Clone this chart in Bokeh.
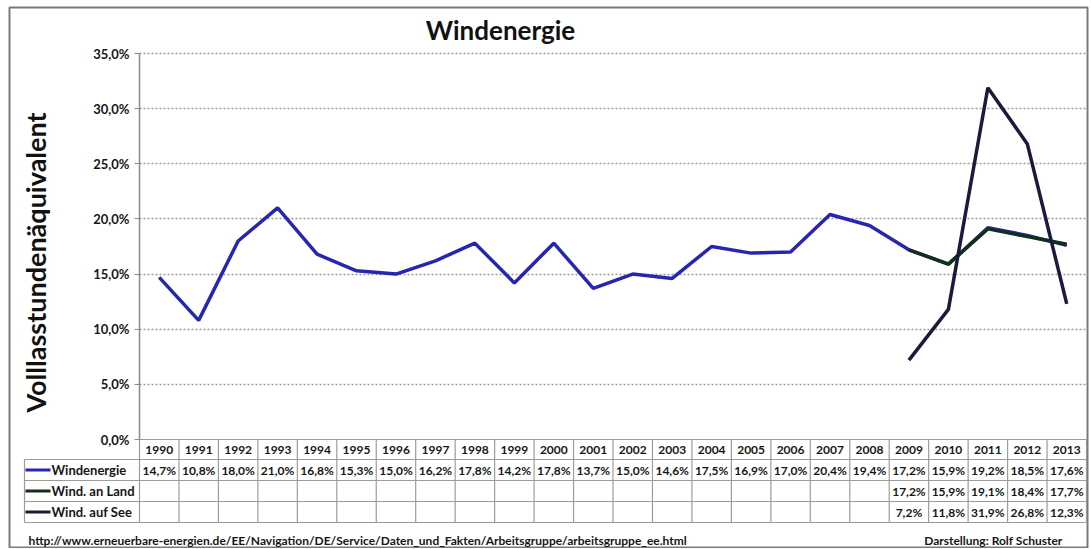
import math
from bokeh.plotting import figure
from bokeh.models import (ColumnDataSource, LinearAxis, FixedTicker, CustomJSTickFormatter,
                          Range1d, Grid)
from bokeh.core.properties import value
from bokeh.embed import file_html
from bokeh.resources import INLINE

# ---------------- data ----------------
years = list(range(1990, 2014))
windenergie = [14.7, 10.8, 18.0, 21.0, 16.8, 15.3, 15.0, 16.2, 17.8, 14.2, 17.8, 13.7,
               15.0, 14.6, 17.5, 16.9, 17.0, 20.4, 19.4, 17.2, 15.9, 19.2, 18.5, 17.6]
land_years = [2009, 2010, 2011, 2012, 2013]
wind_land = [17.2, 15.9, 19.1, 18.4, 17.7]
see_years = [2009, 2010, 2011, 2012, 2013]
wind_see = [7.2, 11.8, 31.9, 26.8, 12.3]
y_ticks = [0, 5, 10, 15, 20, 25, 30, 35]
series_names = ["Windenergie", "Wind. an Land", "Wind. auf See"]
title_text = "Windenergie"
y_label = "Volllasstundenäquivalent"
source_text = "http://www.erneuerbare-energien.de/EE/Navigation/DE/Service/Daten_und_Fakten/Arbeitsgruppe/arbeitsgruppe_ee.html"
author_text = "Darstellung: Rolf Schuster"

# ---------------- layout ----------------
W, H = 1089, 548
FL, FT, FR, FB = 9, 7, 1087, 547      # frame edges in page px
COL_W = (1086 - 139) / 24.0           # px per year
AXIS_PX = 139                         # page x of left chart edge (year 1989.5)
ZERO_PX = 439                         # page y of 0 %
TOP_PX = 53                           # page y of 35 %
PX_PER = (ZERO_PX - TOP_PX) / 35.0

x_start = 1989.5 - (AXIS_PX - FL) / COL_W
x_end = x_start + (FR - FL) / COL_W
y_end = (ZERO_PX - FT) / PX_PER
y_start = y_end - (FB - FT) / PX_PER

def X(px):
    return x_start + (px - FL) / COL_W

def Y(py):
    return y_end - (py - FT) / PX_PER

FONT = "Lato"
BLUE = "#2626b0"
GREEN = "#10301a"
NAVY = "#1c1a3c"
colors = [BLUE, GREEN, NAVY]
TXT = "#161616"

p = figure(width=W, height=H, output_backend="svg", toolbar_location=None,
           x_range=Range1d(x_start, x_end), y_range=Range1d(y_start, y_end),
           x_axis_location=None, y_axis_location=None,
           min_border_left=FL, min_border_top=FT,
           min_border_right=W - FR, min_border_bottom=H - FB)
for g in list(p.xgrid) + list(p.ygrid):
    g.visible = False
p.outline_line_color = "#7a7a7a"
p.outline_line_width = 2
p.background_fill_color = "white"
p.border_fill_color = "white"

# y axis at fixed location
ticker = FixedTicker(ticks=y_ticks)
yaxis = LinearAxis(fixed_location=1989.5, bounds=(0, 35), ticker=ticker,
                   formatter=CustomJSTickFormatter(code="return tick.toFixed(1).replace('.', ',') + '%';"))
yaxis.axis_line_color = "#8a8a8a"
yaxis.axis_line_width = 1.5
yaxis.major_tick_line_color = "#8a8a8a"
yaxis.major_tick_out = 5
yaxis.major_tick_in = 0
yaxis.minor_tick_line_color = None
yaxis.major_label_standoff = 5
yaxis.major_label_text_font = FONT
yaxis.major_label_text_font_style = "bold"
yaxis.major_label_text_font_size = "13px"
yaxis.major_label_text_color = TXT
p.add_layout(yaxis, "left")

grid = Grid(dimension=1, ticker=FixedTicker(ticks=y_ticks[1:]), bounds=(5, 35),
            cross_bounds=(1989.5, 2013.5))
grid.grid_line_color = "#9a9a9a"
grid.grid_line_dash = "2 2"
grid.grid_line_width = 1.5
p.add_layout(grid)

# ---------------- lines ----------------
p.line(years, windenergie, line_color=BLUE, line_width=3.5)
p.line(land_years, wind_land, line_color=GREEN, line_width=3.5)
p.line(see_years, wind_see, line_color=NAVY, line_width=3.5)

# ---------------- data table ----------------
tbl_color = "#9c9c9c"
row_lines = [Y(459), Y(480), Y(501), Y(522)]
x_left = X(24)
x_right = 1989.5 + len(years)
hx0, hx1, hy0, hy1 = [1989.5], [x_right], [0.0], [0.0]
for ry in row_lines:
    hx0.append(x_left); hx1.append(x_right); hy0.append(ry); hy1.append(ry)
p.segment(hx0, hy0, hx1, hy1, line_color=tbl_color, line_width=1.2)
vx = [1989.5 + k for k in range(len(years) + 1)]
p.segment(vx, [0.0] * len(vx), vx, [row_lines[-1]] * len(vx), line_color=tbl_color, line_width=1.2)
p.segment([x_left], [row_lines[0]], [x_left], [row_lines[-1]], line_color=tbl_color, line_width=1.2)

def fmt(v):
    return f"{v:.1f}".replace(".", ",") + "%"

hdr = ColumnDataSource(dict(x=years, y=[Y(449)] * len(years), t=[str(y) for y in years]))
p.text("x", "y", "t", source=hdr, text_align="center", text_baseline="middle",
       text_font=value(FONT), text_font_style="bold", text_font_size="12px", text_color=TXT)

row_y = [Y(469.5), Y(490.5), Y(511.5)]
rows = [(years, windenergie), (land_years, wind_land), (see_years, wind_see)]
for (xs, vs), ry in zip(rows, row_y):
    src = ColumnDataSource(dict(x=xs, y=[ry] * len(xs), t=[fmt(v) for v in vs]))
    p.text("x", "y", "t", source=src, text_align="center", text_baseline="middle",
           text_font=value(FONT), text_font_style="bold", text_font_size="12px", text_color=TXT)

# legend keys in table
p.segment([X(25)] * 3, row_y, [X(50)] * 3, row_y, line_color=colors, line_width=3)
leg = ColumnDataSource(dict(x=[X(51)] * 3, y=row_y, t=series_names))
p.text("x", "y", "t", source=leg, text_align="left", text_baseline="middle",
       text_font=value(FONT), text_font_style="bold", text_font_size="13px", text_color=TXT)

# ---------------- texts ----------------
p.text([X(500)], [Y(29)], [title_text], text_align="center", text_baseline="middle",
       text_font=value(FONT), text_font_style="bold", text_font_size="26px", text_color="#111111")
p.text([X(35)], [Y(262)], [y_label], angle=math.pi / 2, text_align="center", text_baseline="middle",
       text_font=value(FONT), text_font_style="bold", text_font_size="27px", text_color="#111111")
p.text([X(28)], [Y(540)], [source_text], text_align="left", text_baseline="middle",
       text_font=value(FONT), text_font_style="bold", text_font_size="12px", text_color=TXT)
p.text([X(1062)], [Y(540)], [author_text], text_align="right", text_baseline="middle",
       text_font=value(FONT), text_font_style="bold", text_font_size="12px", text_color=TXT)

open("out.html", "w").write(file_html(p, INLINE))
